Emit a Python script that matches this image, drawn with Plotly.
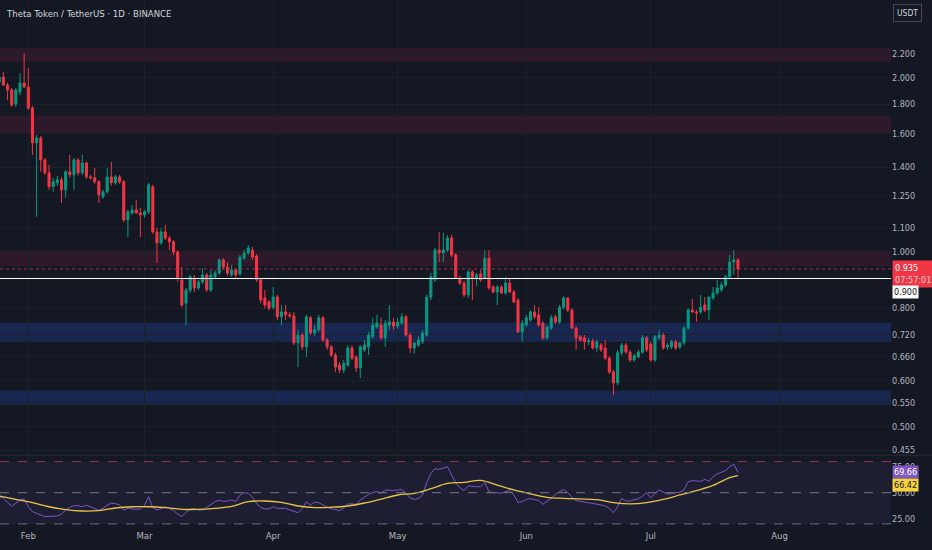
import math
import pandas as pd
import plotly.graph_objects as go

# daily candles, THETA/USDT, 25 Jan 2025 .. 22 Jul 2025
days = pd.date_range("2025-01-25", "2025-07-22", freq="D")

opens = [
    1.965, 2.004, 1.942, 1.904, 1.801, 1.889, 1.957, 1.927, 1.772, 1.543,
    1.573, 1.442, 1.370, 1.296, 1.317, 1.332, 1.280, 1.375, 1.359, 1.442,
    1.370, 1.425, 1.348, 1.343, 1.322, 1.245, 1.270, 1.348, 1.317, 1.348,
    1.322, 1.136, 1.168, 1.182, 1.168, 1.159, 1.173, 1.296, 1.083, 1.037,
    1.083, 1.057, 1.041, 1.000, 0.895, 0.816, 0.860, 0.902, 0.867, 0.888,
    0.913, 0.860, 0.906, 0.920, 0.969, 0.942, 0.913, 0.931, 0.917, 0.976,
    0.996, 1.008, 0.984, 0.895, 0.833, 0.820, 0.803, 0.836, 0.773, 0.788,
    0.779, 0.776, 0.697, 0.719, 0.686, 0.770, 0.725, 0.734, 0.770, 0.705,
    0.686, 0.664, 0.638, 0.626, 0.638, 0.683, 0.659, 0.631, 0.678, 0.686,
    0.714, 0.742, 0.748, 0.711, 0.748, 0.757, 0.745, 0.754, 0.773, 0.719,
    0.683, 0.691, 0.700, 0.719, 0.836, 0.895, 1.008, 0.996, 1.008, 1.057,
    0.988, 0.902, 0.884, 0.843, 0.924, 0.902, 0.917, 0.902, 0.976, 0.870,
    0.853, 0.870, 0.850, 0.884, 0.853, 0.826, 0.728, 0.748, 0.763, 0.788,
    0.779, 0.754, 0.711, 0.739, 0.773, 0.757, 0.803, 0.833, 0.794, 0.739,
    0.714, 0.711, 0.700, 0.702, 0.683, 0.691, 0.683, 0.656, 0.621, 0.595,
    0.670, 0.691, 0.672, 0.651, 0.659, 0.672, 0.711, 0.694, 0.651, 0.711,
    0.719, 0.686, 0.686, 0.700, 0.686, 0.697, 0.739, 0.794, 0.788, 0.788,
    0.810, 0.794, 0.833, 0.850, 0.860, 0.877, 0.906, 0.961, 0.969,
]
highs = [
    2.020, 2.044, 1.957, 1.919, 1.919, 2.036, 2.205, 2.077, 1.787, 1.593,
    1.586, 1.453, 1.414, 1.343, 1.354, 1.348, 1.386, 1.471, 1.453, 1.453,
    1.471, 1.431, 1.359, 1.397, 1.332, 1.280, 1.397, 1.431, 1.359, 1.359,
    1.332, 1.182, 1.206, 1.230, 1.192, 1.182, 1.317, 1.306, 1.101, 1.101,
    1.114, 1.066, 1.049, 1.008, 0.942, 0.867, 0.913, 0.913, 0.895, 0.938,
    0.920, 0.931, 0.931, 0.976, 0.976, 0.961, 0.950, 0.938, 0.988, 1.008,
    1.029, 1.020, 0.992, 0.902, 0.860, 0.826, 0.870, 0.843, 0.810, 0.810,
    0.788, 0.788, 0.734, 0.725, 0.779, 0.776, 0.748, 0.779, 0.776, 0.711,
    0.691, 0.670, 0.646, 0.651, 0.691, 0.691, 0.664, 0.691, 0.705, 0.728,
    0.770, 0.779, 0.770, 0.763, 0.810, 0.770, 0.770, 0.785, 0.779, 0.725,
    0.700, 0.716, 0.734, 0.843, 0.920, 1.016, 1.083, 1.079, 1.070, 1.070,
    0.996, 0.910, 0.892, 0.931, 0.931, 0.920, 0.931, 1.008, 1.008, 0.877,
    0.877, 0.877, 0.906, 0.902, 0.860, 0.833, 0.763, 0.779, 0.794, 0.810,
    0.803, 0.760, 0.748, 0.779, 0.779, 0.810, 0.839, 0.836, 0.800, 0.745,
    0.719, 0.719, 0.711, 0.708, 0.705, 0.697, 0.705, 0.662, 0.626, 0.678,
    0.697, 0.697, 0.678, 0.667, 0.678, 0.719, 0.716, 0.700, 0.719, 0.734,
    0.725, 0.697, 0.705, 0.705, 0.700, 0.745, 0.800, 0.830, 0.794, 0.843,
    0.836, 0.839, 0.870, 0.895, 0.888, 0.913, 0.988, 1.008, 0.976,
]
lows = [
    1.950, 1.934, 1.830, 1.780, 1.780, 1.866, 1.919, 1.759, 1.471, 1.150,
    1.375, 1.359, 1.280, 1.270, 1.301, 1.215, 1.240, 1.343, 1.280, 1.354,
    1.359, 1.337, 1.332, 1.311, 1.215, 1.235, 1.260, 1.301, 1.306, 1.311,
    1.127, 1.061, 1.159, 1.164, 1.061, 1.145, 1.164, 1.074, 0.957, 1.029,
    1.049, 1.008, 0.988, 0.888, 0.803, 0.748, 0.850, 0.853, 0.860, 0.881,
    0.853, 0.853, 0.899, 0.913, 0.931, 0.910, 0.906, 0.902, 0.910, 0.969,
    0.988, 0.969, 0.888, 0.816, 0.800, 0.794, 0.797, 0.763, 0.748, 0.763,
    0.770, 0.691, 0.633, 0.678, 0.659, 0.719, 0.716, 0.728, 0.700, 0.678,
    0.659, 0.621, 0.618, 0.618, 0.633, 0.651, 0.621, 0.606, 0.672, 0.664,
    0.708, 0.737, 0.705, 0.686, 0.734, 0.734, 0.737, 0.748, 0.714, 0.670,
    0.667, 0.686, 0.694, 0.714, 0.826, 0.888, 0.961, 0.961, 1.000, 0.980,
    0.899, 0.877, 0.836, 0.833, 0.826, 0.874, 0.888, 0.899, 0.860, 0.849,
    0.810, 0.846, 0.843, 0.850, 0.816, 0.725, 0.700, 0.742, 0.757, 0.766,
    0.742, 0.705, 0.705, 0.734, 0.751, 0.751, 0.797, 0.788, 0.739, 0.678,
    0.700, 0.678, 0.691, 0.678, 0.672, 0.672, 0.651, 0.616, 0.566, 0.589,
    0.662, 0.667, 0.646, 0.646, 0.656, 0.667, 0.672, 0.646, 0.646, 0.705,
    0.678, 0.678, 0.680, 0.678, 0.680, 0.691, 0.734, 0.785, 0.757, 0.782,
    0.788, 0.763, 0.826, 0.843, 0.853, 0.870, 0.899, 0.913, 0.902,
]
closes = [
    2.004, 1.942, 1.904, 1.794, 1.904, 1.957, 1.927, 1.772, 1.543, 1.573,
    1.442, 1.370, 1.296, 1.322, 1.332, 1.280, 1.375, 1.359, 1.442, 1.370,
    1.425, 1.348, 1.343, 1.322, 1.255, 1.270, 1.348, 1.317, 1.348, 1.322,
    1.136, 1.173, 1.182, 1.168, 1.159, 1.173, 1.306, 1.083, 1.037, 1.083,
    1.057, 1.041, 1.000, 0.902, 0.810, 0.860, 0.906, 0.867, 0.888, 0.913,
    0.860, 0.913, 0.920, 0.969, 0.942, 0.920, 0.931, 0.913, 0.980, 0.996,
    1.016, 0.980, 0.895, 0.826, 0.810, 0.800, 0.836, 0.773, 0.788, 0.779,
    0.776, 0.697, 0.719, 0.686, 0.773, 0.725, 0.734, 0.770, 0.705, 0.686,
    0.664, 0.633, 0.626, 0.643, 0.683, 0.656, 0.631, 0.686, 0.691, 0.719,
    0.748, 0.754, 0.711, 0.754, 0.757, 0.745, 0.757, 0.773, 0.719, 0.683,
    0.697, 0.705, 0.725, 0.836, 0.906, 1.008, 0.996, 1.008, 1.057, 0.988,
    0.902, 0.884, 0.843, 0.924, 0.902, 0.913, 0.895, 0.976, 0.867, 0.853,
    0.870, 0.850, 0.884, 0.853, 0.820, 0.728, 0.754, 0.770, 0.788, 0.773,
    0.748, 0.711, 0.742, 0.770, 0.757, 0.803, 0.833, 0.794, 0.739, 0.711,
    0.705, 0.700, 0.702, 0.683, 0.700, 0.678, 0.656, 0.621, 0.595, 0.670,
    0.691, 0.672, 0.651, 0.662, 0.672, 0.711, 0.678, 0.651, 0.714, 0.719,
    0.683, 0.691, 0.700, 0.683, 0.697, 0.739, 0.794, 0.788, 0.785, 0.803,
    0.794, 0.836, 0.850, 0.867, 0.877, 0.906, 0.961, 0.969, 0.935,
]

# RSI pane
rsi = [
    46.0, 44.6, 40.7, 37.0, 40.0, 43.0, 44.0, 36.5, 31.8, 30.2,
    28.0, 27.0, 27.2, 27.5, 27.5, 29.5, 33.4, 36.0, 37.5, 37.5,
    36.5, 38.0, 36.5, 34.4, 33.0, 35.0, 38.0, 40.0, 39.5, 38.2,
    33.4, 35.0, 34.4, 34.0, 34.4, 37.5, 46.2, 35.6, 33.4, 35.0,
    36.5, 35.0, 32.8, 29.5, 27.0, 31.2, 34.0, 34.7, 33.4, 33.4,
    36.0, 38.9, 41.4, 42.7, 41.7, 42.0, 43.0, 41.4, 47.5, 50.0,
    49.4, 45.6, 39.8, 35.6, 34.4, 34.4, 36.5, 35.0, 35.3, 35.0,
    33.4, 31.8, 30.8, 35.0, 41.4, 38.2, 41.0, 40.4, 38.2, 36.0,
    34.7, 33.4, 32.8, 35.3, 39.2, 39.2, 38.9, 43.0, 45.9, 48.4,
    50.3, 51.0, 49.4, 52.6, 52.3, 52.0, 52.6, 53.2, 49.4, 45.0,
    43.6, 44.6, 47.8, 59.6, 68.6, 73.1, 72.4, 74.0, 75.0, 67.0,
    59.6, 54.8, 52.0, 56.5, 55.8, 55.8, 55.8, 60.0, 51.0, 50.0,
    50.0, 49.4, 51.0, 52.0, 47.8, 40.7, 41.4, 43.6, 44.3, 43.6,
    42.4, 38.9, 41.4, 44.6, 48.4, 51.0, 53.2, 50.0, 45.6, 42.4,
    41.4, 41.0, 40.4, 39.8, 39.2, 38.2, 37.2, 35.0, 30.8, 36.5,
    44.6, 42.0, 42.0, 43.0, 44.3, 46.8, 50.0, 45.0, 49.4, 52.6,
    51.0, 48.7, 49.4, 50.0, 50.3, 52.6, 60.6, 61.6, 61.3, 60.9,
    62.8, 60.9, 65.4, 68.0, 69.6, 71.2, 75.0, 77.3, 69.66,
]
ma_days = [
    "2025-01-25", "2025-01-29", "2025-02-02", "2025-02-06", "2025-02-10",
    "2025-02-14", "2025-02-18", "2025-02-22", "2025-02-26", "2025-03-02",
    "2025-03-06", "2025-03-10", "2025-03-14", "2025-03-18", "2025-03-22",
    "2025-03-26", "2025-03-30", "2025-04-03", "2025-04-07", "2025-04-11",
    "2025-04-15", "2025-04-19", "2025-04-23", "2025-04-27", "2025-05-01",
    "2025-05-05", "2025-05-09", "2025-05-13", "2025-05-17", "2025-05-21",
    "2025-05-25", "2025-05-29", "2025-06-02", "2025-06-06", "2025-06-10",
    "2025-06-14", "2025-06-18", "2025-06-22", "2025-06-26", "2025-06-30",
    "2025-07-04", "2025-07-08", "2025-07-12", "2025-07-16", "2025-07-20",
    "2025-07-22",
]
ma_vals = [
    46.8, 43.6, 40.4, 36.5, 33.7, 32.4, 32.8, 35.3, 36.5, 36.5,
    35.6, 34.0, 34.0, 35.0, 36.8, 41.4, 42.0, 40.7, 37.2, 35.6,
    36.0, 37.2, 40.1, 43.9, 47.8, 49.4, 53.8, 59.0, 60.0, 61.9,
    57.4, 52.6, 48.8, 45.6, 44.6, 44.0, 43.3, 40.4, 39.2, 40.4,
    43.6, 47.8, 52.0, 57.0, 64.5, 66.42,
]

# horizontal zones drawn on the chart
red_zones = [(2.13, 2.25), (1.60, 1.72), (0.945, 1.005)]
blue_zones = [(0.70, 0.755), (0.545, 0.577)]
support_level = 0.900
rsi_levels = [80, 50, 20]

price_ticks = [2.2, 2.0, 1.8, 1.6, 1.4, 1.25, 1.1, 1.0, 0.8, 0.72, 0.66, 0.6, 0.55, 0.5, 0.455]
rsi_ticks = [25, 50, 75]
month_ticks = ["2025-02-01", "2025-03-01", "2025-04-01", "2025-05-01",
               "2025-06-01", "2025-07-01", "2025-08-01"]
month_names = ["Feb", "Mar", "Apr", "May", "Jun", "Jul", "Aug"]

BG = "#141823"
GRID = "#1c202b"
UP = "#089981"
DOWN = "#F23645"
TXT = "#b2b5be"
FONT = "Liberation Sans Narrow, Arial Narrow, DejaVu Sans Condensed, Liberation Sans, sans-serif"

fig = go.Figure()

fig.add_trace(go.Candlestick(
    x=days, open=opens, high=highs, low=lows, close=closes,
    increasing=dict(line=dict(color=UP, width=1), fillcolor=UP),
    decreasing=dict(line=dict(color=DOWN, width=1), fillcolor=DOWN),
    whiskerwidth=0, showlegend=False,
))
fig.add_trace(go.Scatter(
    x=days, y=rsi, yaxis="y2", mode="lines",
    line=dict(color="#7E57C2", width=1), showlegend=False,
))
fig.add_trace(go.Scatter(
    x=ma_days, y=ma_vals, yaxis="y2", mode="lines",
    line=dict(color="#E8C547", width=1.3, shape="spline"), showlegend=False,
))

shapes = []
for lo, hi in red_zones:
    shapes.append(dict(type="rect", xref="paper", x0=0, x1=1, yref="y", y0=lo, y1=hi,
                       fillcolor="rgba(233,30,99,0.12)", line=dict(width=0), layer="below"))
for lo, hi in blue_zones:
    shapes.append(dict(type="rect", xref="paper", x0=0, x1=1, yref="y", y0=lo, y1=hi,
                       fillcolor="rgba(41,98,255,0.20)", line=dict(width=0), layer="below"))
shapes.append(dict(type="line", xref="paper", x0=0, x1=1, yref="y",
                   y0=support_level, y1=support_level, line=dict(color="#ffffff", width=1)))
shapes.append(dict(type="line", xref="paper", x0=0, x1=1, yref="y",
                   y0=closes[-1], y1=closes[-1], line=dict(color="#a8324a", width=1, dash="dot")))
# RSI band
shapes.append(dict(type="rect", xref="paper", x0=0, x1=1, yref="y2",
                   y0=rsi_levels[2], y1=rsi_levels[0],
                   fillcolor="rgba(126,87,194,0.10)", line=dict(width=0), layer="below"))
for lvl, col in zip(rsi_levels, ["#8e3358", "#787B86", "#6b7080"]):
    shapes.append(dict(type="line", xref="paper", x0=0, x1=1, yref="y2", y0=lvl, y1=lvl,
                       line=dict(color=col, width=1, dash="dash")))
# pane separator
shapes.append(dict(type="line", xref="paper", x0=0, x1=1.05, yref="paper", y0=0.138, y1=0.138,
                   line=dict(color="#2a2e39", width=1)))

annotations = [
    dict(xref="paper", yref="paper", x=0.005, y=1, xanchor="left", yanchor="top", yshift=-6,
         text="Theta Token / TetherUS · 1D · BINANCE", showarrow=False,
         font=dict(size=9.5, color="#d1d4dc")),
    dict(xref="paper", yref="paper", x=1, y=1, xanchor="left", yanchor="top", xshift=2, yshift=-4,
         text="USDT", showarrow=False, bgcolor=BG, bordercolor="#434651", borderwidth=1,
         borderpad=3, font=dict(size=8.5, color="#d1d4dc")),
    dict(xref="paper", yref="y", x=1, y=math.log10(closes[-1]), xanchor="left", yanchor="middle",
         xshift=1, yshift=-5, showarrow=False, align="left",
         text="%.3f<br><span style='color:#ffd0d4'>07:57:01</span>" % closes[-1],
         bgcolor=DOWN, borderpad=2, font=dict(size=9, color="#ffffff")),
    dict(xref="paper", yref="y", x=1, y=math.log10(support_level), xanchor="left", yanchor="middle",
         xshift=1, yshift=-13, showarrow=False, text="%.3f" % support_level,
         bgcolor="#ffffff", borderpad=1, font=dict(size=9, color="#131722")),
    dict(xref="paper", yref="y2", x=1, y=rsi[-1], xanchor="left", yanchor="middle",
         xshift=1, showarrow=False, text="%.2f" % rsi[-1],
         bgcolor="#7E57C2", borderpad=1, font=dict(size=9, color="#ffffff")),
    dict(xref="paper", yref="y2", x=1, y=ma_vals[-1], xanchor="left", yanchor="middle",
         xshift=1, yshift=-9, showarrow=False, text="%.2f" % ma_vals[-1],
         bgcolor="#F7D23E", borderpad=1, font=dict(size=9, color="#131722")),
]

fig.update_layout(
    width=932, height=550,
    margin=dict(l=0, r=41, t=0, b=22),
    paper_bgcolor=BG, plot_bgcolor=BG,
    font=dict(family=FONT, size=9, color=TXT),
    showlegend=False,
    hovermode=False,
    shapes=shapes,
    annotations=annotations,
    xaxis=dict(
        type="date", anchor="y2",
        range=["2025-01-25 04:20", "2025-08-27 21:00"],
        rangeslider=dict(visible=False),
        tickvals=month_ticks, ticktext=month_names,
        showgrid=True, gridcolor=GRID, gridwidth=1,
        zeroline=False, showline=False, ticks="",
        tickfont=dict(size=9.5, color=TXT),
    ),
    yaxis=dict(
        domain=[0.14, 1], type="log", side="right",
        range=[-0.3487, 0.4349],
        tickvals=price_ticks, ticktext=["%.3f" % v for v in price_ticks],
        showgrid=True, gridcolor=GRID, zeroline=False, showline=False, ticks="",
        tickfont=dict(size=9, color=TXT),
    ),
    yaxis2=dict(
        domain=[0, 0.136], side="right", anchor="x",
        range=[16.06, 85.1],
        tickvals=rsi_ticks, ticktext=["%.2f" % v for v in rsi_ticks],
        showgrid=False, zeroline=False, showline=False, ticks="",
        tickfont=dict(size=9, color=TXT),
    ),
)

# drop the browser's default body margin so the figure fills the window
fig.write_html("out.html", config={"displayModeBar": False},
               post_script="document.body.style.margin='0';document.body.style.background='%s';" % BG)
